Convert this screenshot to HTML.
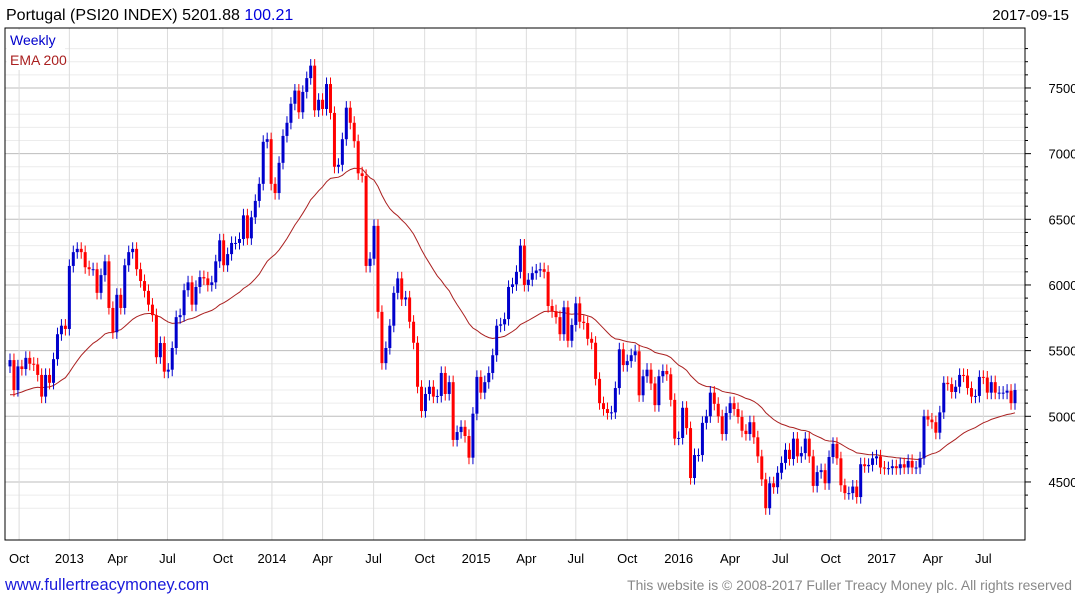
<!DOCTYPE html>
<html><head><meta charset="utf-8">
<style>
body{margin:0;background:#fff;width:1075px;height:600px;overflow:hidden;font-family:"Liberation Sans",sans-serif}
svg text{font-family:"Liberation Sans",sans-serif}
</style></head>
<body>
<svg id="chart" width="1075" height="600" xmlns="http://www.w3.org/2000/svg">
<text x="6" y="20" font-size="16" fill="#000">Portugal (PSI20 INDEX) 5201.88 <tspan fill="#0000dd">100.21</tspan></text>
<text x="1069" y="20" font-size="15" fill="#000" text-anchor="end">2017-09-15</text>
<text x="5" y="590" font-size="16.5" fill="#1a1adb">www.fullertreacymoney.com</text>
<text x="1072" y="590" font-size="13.9" fill="#888" text-anchor="end">This website is © 2008-2017 Fuller Treacy Money plc. All rights reserved</text>
<g id="plot"></g>
</svg>
<script>
const closes=[5428,5200,5380,5360,5445,5400,5395,5315,5150,5315,5255,5435,5625,5690,5665,6145,6250,6275,6250,6135,6120,6120,5940,6075,6180,5825,5640,5925,5825,6150,6250,6275,6120,6030,5955,5850,5770,5450,5558,5340,5355,5520,5755,5770,5960,6020,5850,5985,6060,6050,6000,6020,6180,6340,6150,6235,6320,6320,6350,6530,6355,6515,
6640,6770,7090,7110,6770,6700,6930,7135,7235,7380,7480,7315,7470,7575,7670,7330,7410,7340,7530,7310,6900,6915,7110,7350,7235,7095,6850,6830,6145,6200,6450,5795,5405,5520,5690,5940,6050,5890,5905,5720,5560,5225,5040,5170,5225,5150,5155,5330,5170,5260,4820,4880,4920,4850,4685,5020,5300,5180,5260,5330,5465,5690,5700,5740,
5985,6005,6100,6300,6000,6040,6090,6110,6120,6100,5840,5800,5755,5625,5830,5575,5695,5860,5720,5710,5590,5560,5285,5100,5055,5025,5030,5215,5510,5390,5420,5465,5495,5160,5305,5355,5250,5085,5305,5345,5320,5125,4830,4835,5065,4910,4530,4705,4705,4950,5000,5180,5095,5000,4865,5025,5100,5055,4995,4890,4865,4955,
4840,4695,4520,4300,4490,4460,4570,4645,4745,4675,4830,4695,4720,4830,4695,4470,4575,4590,4490,4690,4790,4680,4475,4415,4415,4465,4385,4635,4620,4630,4680,4695,4610,4605,4605,4620,4605,4635,4610,4660,4610,4610,4680,5000,4975,4955,4875,5030,5255,5245,5185,5225,5315,5310,5215,5150,5155,5300,5295,5180,5260,5180,5180,5180,5195,5100,5200];
const firstOpen=5380;
const emaSeed=5150;
const yTicks=[4500,5000,5500,6000,6500,7000,7500];
const xTickLabels=["Oct","2013","Apr","Jul","Oct","2014","Apr","Jul","Oct","2015","Apr","Jul","Oct","2016","Apr","Jul","Oct","2017","Apr","Jul"];
const xTickWeeks=[2.3,15,27.2,39.8,53.8,66.2,79,91.9,104.8,117.8,130.5,143,156,169,182,194.7,207.4,220.3,233.2,246];

const L=5,R=1025,T=28,B=540;
const n=closes.length;
const X=i=>10+i*(1005/(n-1));
const Y=v=>416.3-(v-5000)*0.13133;
const NS="http://www.w3.org/2000/svg";
const g=document.getElementById('plot');
function mk(tag,attrs){const e=document.createElementNS(NS,tag);for(const k in attrs)e.setAttribute(k,attrs[k]);g.appendChild(e);return e;}

for(let v=4300;v<=7800;v+=100){
  const y=Y(v);
  const ln=mk('line',{x1:L,x2:R,y1:y,y2:y,stroke:v%500===0?'#bdbdbd':'#ececec','stroke-width':1});
  
  
  const tk=mk('line',{x1:R,x2:R+(v%500===0?6:3),y1:y,y2:y,stroke:'#000','stroke-width':1});
  
  
}
yTicks.forEach(v=>{
  const t=mk('text',{x:1063,y:Y(v)+5,'font-size':13,fill:'#000','text-anchor':'middle'});
  t.textContent=v;
  
  
});
xTickWeeks.forEach((w,k)=>{
  const x=X(w);
  const ln=mk('line',{x1:x,x2:x,y1:T,y2:B,stroke:'#dcdcdc','stroke-width':1});
  
  
  const t=mk('text',{x:x,y:563,'font-size':13,fill:'#000','text-anchor':'middle'});
  t.textContent=xTickLabels[k];
  
  
});
const fr=mk('rect',{x:L,y:T,width:R-L,height:B-T,fill:'none',stroke:'#000','stroke-width':1});



let ema=emaSeed,pts=[];const a=2/41;
closes.forEach((c,i)=>{ema=ema+a*(c-ema);pts.push(X(i).toFixed(1)+','+Y(ema).toFixed(1));});
const el=mk('polyline',{points:pts.join(' '),fill:'none',stroke:'#aa2020','stroke-width':1});



closes.forEach((c,i)=>{
  const o=i===0?firstOpen:closes[i-1];
  const up=c>=o;
  const col=up?'#0000cc':'#ff0000';
  const hi=Math.max(o,c)+50,lo=Math.min(o,c)-50;
  const x=X(i);
  const w=mk('line',{x1:x,x2:x,y1:Y(hi),y2:Y(lo),stroke:col,'stroke-width':1});
  
  
  const yt=Y(Math.max(o,c)),yb=Y(Math.min(o,c));
  const r=mk('rect',{x:x-1.5,y:yt,width:3,height:Math.max(1,yb-yt),fill:col});
  
  
});
const lw=mk('rect',{x:7,y:30,width:58,height:40,fill:'#fff'});


const l1=mk('text',{x:10,y:45,'font-size':14,fill:'#0000cc'});l1.textContent='Weekly';


const l2=mk('text',{x:10,y:65,'font-size':14,fill:'#aa2020'});l2.textContent='EMA 200';


</script>
</body></html>
